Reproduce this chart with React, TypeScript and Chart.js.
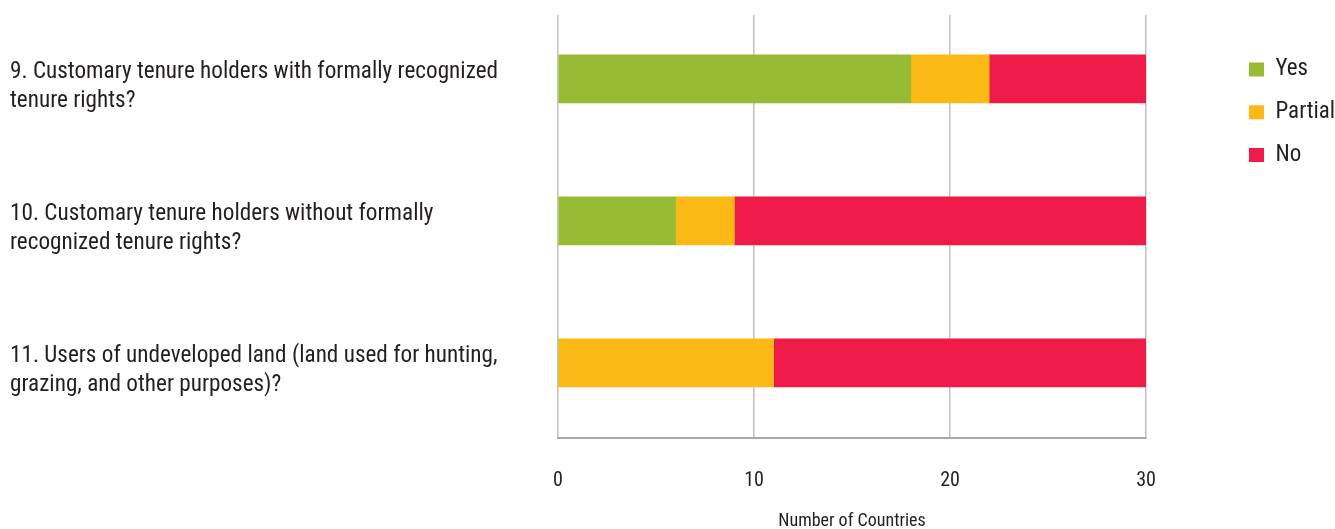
import React, { useEffect, useRef } from 'react';
import { Chart, registerables } from 'chart.js';

Chart.register(...registerables);

const categories: string[][] = [
  ['9. Customary tenure holders with formally recognized', 'tenure rights?'],
  ['10. Customary tenure holders without formally', 'recognized tenure rights?'],
  ['11. Users of undeveloped land (land used for hunting,', 'grazing, and other purposes)?'],
];
const seriesNames = ['Yes', 'Partial', 'No'];
const yesValues = [18, 6, 0];
const partialValues = [4, 3, 11];
const noValues = [8, 21, 19];
const xTicks = [0, 10, 20, 30];
const xTitle = 'Number of Countries';

const FONT = "'Roboto Condensed', 'Liberation Sans Narrow', 'DejaVu Sans Condensed', sans-serif";
const INK = '#231f20';
const COLORS = ['#97bb34', '#fbb915', '#ee1a48'];

export default function App() {
  const ref = useRef<HTMLCanvasElement>(null);
  useEffect(() => {
    const series = [yesValues, partialValues, noValues];
    const chart = new Chart(ref.current as HTMLCanvasElement, {
      type: 'bar',
      data: {
        datasets: series.map((vals, s) => ({
          label: seriesNames[s],
          data: vals.map((v, i) => ({ x: v, y: i })),
          backgroundColor: COLORS[s],
          borderWidth: 0,
          barThickness: 48,
        })),
      },
      options: {
        indexAxis: 'y',
        animation: false,
        responsive: true,
        maintainAspectRatio: false,
        layout: { padding: { left: 10, top: 15, right: 0, bottom: 0 } },
        scales: {
          x: {
            type: 'linear',
            stacked: true,
            min: 0,
            max: 30,
            afterBuildTicks: (s: any) => {
              s.ticks = xTicks.map((v) => ({ value: v }));
            },
            afterFit: (s: any) => {
              s.height = 91;
            },
            grid: { color: '#c2c2bd', lineWidth: 1.5, drawTicks: false },
            border: { display: true, color: '#a9a9a3', width: 2 },
            ticks: { padding: 31, color: INK, font: { family: FONT, size: 20 } },
            title: {
              display: true,
              text: xTitle,
              color: INK,
              font: { family: FONT, size: 18, lineHeight: 0.8 },
              padding: { top: 23.6, bottom: 0 },
            },
          },
          y: {
            type: 'linear',
            stacked: true,
            reverse: true,
            offset: false,
            min: -0.4493,
            max: 2.5296,
            afterBuildTicks: (s: any) => {
              s.ticks = categories.map((_, i) => ({ value: i }));
            },
            afterFit: (s: any) => {
              s.width = 548;
              s.paddingTop = 0;
              s.paddingBottom = 0;
            },
            grid: { display: false, offset: false },
            border: { display: false },
            ticks: {
              crossAlign: 'far',
              autoSkip: false,
              labelOffset: 8,
              color: INK,
              font: { family: FONT, size: 23.2, lineHeight: 1.25 },
              callback: (v: any) => categories[v as number],
            },
          },
          spacer: {
            type: 'linear',
            position: 'right',
            display: true,
            grid: { display: false },
            border: { display: false },
            ticks: { display: false },
            afterFit: (s: any) => {
              s.width = 83.3;
              s.paddingTop = 0;
              s.paddingBottom = 0;
            },
          },
        },
        plugins: {
          legend: {
            position: 'right',
            align: 'start',
            maxWidth: 105.7,
            title: { display: true, text: '', font: { size: 23.3, lineHeight: 1 }, padding: 0 },
            labels: {
              boxWidth: 15,
              boxHeight: 14,
              padding: 19.7,
              color: INK,
              font: { family: FONT, size: 23 },
            },
          },
          tooltip: { enabled: false },
        },
      } as any,
    });
    return () => chart.destroy();
  }, []);
  return (
    <div style={{ position: 'fixed', left: 0, top: 0, width: 1335, height: 529 }}>
      <canvas ref={ref} />
    </div>
  );
}
